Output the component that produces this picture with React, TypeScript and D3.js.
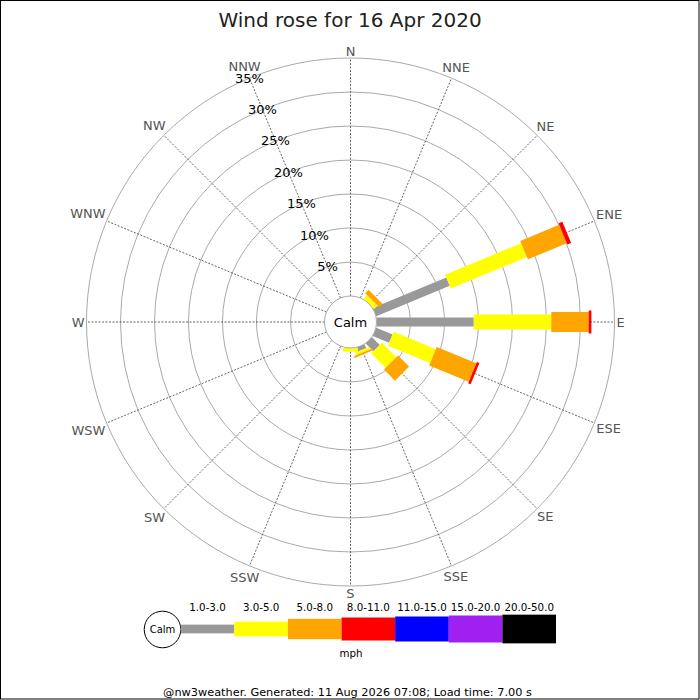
import React from "react";
import * as d3 from "d3";

const title = "Wind rose for 16 Apr 2020";
const footer = "@nw3weather. Generated: 11 Aug 2026 07:08; Load time: 7.00 s";
const directions = ["N", "NNE", "NE", "ENE", "E", "ESE", "SE", "SSE", "S", "SSW", "SW", "WSW", "W", "WNW", "NW", "NNW"];
const speedBins = ["1.0-3.0", "3.0-5.0", "5.0-8.0", "8.0-11.0", "11.0-15.0", "15.0-20.0", "20.0-50.0"];
const binColors = ["#999999", "#ffff00", "#ffa500", "#ff0000", "#0000ff", "#a020f0", "#000000"];
const ringTicks = [5, 10, 15, 20, 25, 30, 35];
const unitLabel = "mph";
const calmLabel = "Calm";

// percent of time per direction, per speed bin (N, NNE, NE, ENE, E, ESE, SE, SSE, S, ...)
const bin1to3 = [0, 0, 0, 11.7, 14.3, 2.6, 1.6, 0.6, 0, 0, 0, 0, 0, 0, 0, 0];
const bin3to5 = [0, 0, 0.7, 12.1, 11.4, 6.7, 3.0, 0.4, 0.55, 0, 0, 0, 0, 0, 0, 0];
const bin5to8 = [0, 0, 0.7, 6.2, 5.5, 6.3, 2.3, 0.3, 0, 0, 0, 0, 0, 0, 0, 0];
const bin8to11 = [0, 0, 0, 0.6, 0.4, 0.4, 0, 0, 0, 0, 0, 0, 0, 0, 0, 0];
const bin11to15 = [0, 0, 0, 0, 0, 0, 0, 0, 0, 0, 0, 0, 0, 0, 0, 0];
const bin15to20 = [0, 0, 0, 0, 0, 0, 0, 0, 0, 0, 0, 0, 0, 0, 0, 0];
const bin20to50 = [0, 0, 0, 0, 0, 0, 0, 0, 0, 0, 0, 0, 0, 0, 0, 0];
const seriesValues = [bin1to3, bin3to5, bin5to8, bin8to11, bin11to15, bin15to20, bin20to50];

const FONT = "DejaVu Sans, sans-serif";
const W = 700, H = 700;
const cx = 350.5, cy = 322;
const barWidths = [9, 15, 20, 23, 25, 27, 29];
const legendHeights = [8.7, 14.7, 20.3, 23, 25, 27, 28.7];

const charW: Record<string, number> = { N: 0.748, E: 0.632, S: 0.635, W: 0.989 };

export default function App() {
  const r = d3.scaleLinear().domain([0, 35]).range([26, 264]);
  const table = directions.map((d, i) => {
    const row: any = { dir: d };
    speedBins.forEach((b, j) => (row[b] = seriesValues[j][i]));
    return row;
  });
  const stacked = d3.stack<any>().keys(speedBins)(table);
  const angle = d3.scaleBand().domain(directions).range([0, 360]);
  const rad = (deg: number) => (deg * Math.PI) / 180;
  const legendX = d3.scaleBand().domain(speedBins).range([180.7, 556]);

  const labelFs = 13;
  return (
    <svg width={W} height={H} style={{ position: "absolute", left: 0, top: 0, background: "#fff" }} fontFamily={FONT}>
      <rect x={0} y={0} width={W} height={H} fill="#fff" />
      <text x={350} y={27} textAnchor="middle" fontSize={20} fill="#222">{title}</text>

      {/* rings */}
      {ringTicks.map((t) => (
        <circle key={t} cx={cx} cy={cy} r={r(t)} fill="none" stroke="#aaa" strokeWidth={1} />
      ))}
      {/* spokes */}
      {directions.map((d) => {
        const a = rad(angle(d)!);
        return (
          <line key={d} x1={cx + r(0) * Math.sin(a)} y1={cy - r(0) * Math.cos(a)} x2={cx + r(35) * Math.sin(a)} y2={cy - r(35) * Math.cos(a)}
            stroke="#555" strokeWidth={0.9} strokeDasharray="2,1.5" />
        );
      })}
      {/* direction labels */}
      {directions.map((d) => {
        const a = rad(angle(d)!);
        const w = d.split("").reduce((s, c) => s + (charW[c] || 0.7), 0) * labelFs;
        const ext = Math.abs(Math.sin(a)) * (w / 2) + Math.abs(Math.cos(a)) * 5;
        const rr = 266 + ext;
        return (
          <text key={d} x={cx + rr * Math.sin(a)} y={cy - rr * Math.cos(a)} textAnchor="middle" dominantBaseline="central"
            fontSize={labelFs} fill="#555">{d}</text>
        );
      })}
      {/* bars */}
      {stacked.map((s, j) => (
        <g key={s.key} fill={binColors[j]}>
          {s.map((seg, i) => {
            const v = seg[1] - seg[0];
            if (v <= 0) return null;
            const w = barWidths[j];
            return (
              <rect key={i} x={cx - w / 2} y={cy - r(seg[1])} width={w} height={r(seg[1]) - r(seg[0])}
                transform={`rotate(${angle(directions[i])}, ${cx}, ${cy})`} />
            );
          })}
        </g>
      ))}
      {/* calm circle */}
      <circle cx={cx} cy={cy} r={r(0)} fill="#fff" stroke="#aaa" strokeWidth={1} />
      <text x={cx} y={cy} textAnchor="middle" dominantBaseline="central" fontSize={13} fill="#000">{calmLabel}</text>
      {/* ring labels along NNW */}
      {ringTicks.map((t) => {
        const a = rad(angle("NNW")!);
        return (
          <text key={t} x={cx + r(t) * Math.sin(a)} y={cy - r(t) * Math.cos(a)} textAnchor="middle" dominantBaseline="central"
            fontSize={13} fill="#000">{t}%</text>
        );
      })}

      {/* legend */}
      <circle cx={162.5} cy={629.5} r={18.3} fill="#fff" stroke="#000" strokeWidth={1} />
      <text x={162.5} y={629.5} textAnchor="middle" dominantBaseline="central" fontSize={10} fill="#000">{calmLabel}</text>
      {speedBins.map((b, j) => (
        <g key={b}>
          <rect x={legendX(b)} y={629 - legendHeights[j] / 2} width={legendX.bandwidth()} height={legendHeights[j]} fill={binColors[j]} />
          <text x={legendX(b)! + legendX.bandwidth() / 2} y={610.5} textAnchor="middle" fontSize={10.3} fill="#000">{b}</text>
        </g>
      ))}
      <text x={351} y={657} textAnchor="middle" fontSize={10.3} fill="#000">{unitLabel}</text>
      <text x={347.5} y={696} textAnchor="middle" fontSize={11.3} fill="#000">{footer}</text>
      <rect x={0.5} y={0.5} width={W - 1.5} height={H - 1.5} fill="none" stroke="#000" strokeWidth={1} />
    </svg>
  );
}
